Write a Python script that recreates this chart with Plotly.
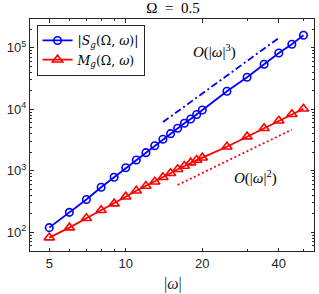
import plotly.graph_objects as go
import numpy as np

omega = [5, 6, 7, 8, 9, 10, 11, 12, 13, 14, 15, 16, 17, 18, 19, 20, 25, 30, 35, 40, 45, 50]
S_abs = [119, 211, 341, 538, 783, 1117, 1496, 1967, 2555, 3245, 4005, 4900, 5910, 6940,
         8220, 9730, 19600, 33000, 53700, 82000, 113600, 159000]
M_g = [82, 119, 169, 228, 292, 379, 474, 565, 664, 783, 909, 1057, 1196, 1353, 1497,
       1631, 2460, 3580, 4900, 6510, 8280, 10200]

ref3_omega = [14, 40]
ref3_coef = 2.25
ref2_omega = [16, 45]
ref2_coef = 2.3

x_ticks = [5, 10, 20, 40]
x_ticktext = ["5", "10", "20", "40"]
x_minor = [6, 7, 8, 9, 30, 50]
y_ticks = [1e2, 1e3, 1e4, 1e5]
y_ticktext = ["10<sup>2</sup>", "10<sup>3</sup>", "10<sup>4</sup>", "10<sup>5</sup>"]
y_minor = [50, 60, 70, 80, 90, 200, 300, 400, 500, 600, 700, 800, 900,
           2000, 3000, 4000, 5000, 6000, 7000, 8000, 9000,
           2e4, 3e4, 4e4, 5e4, 6e4, 7e4, 8e4, 9e4, 2e5]

AX = "#262626"
SERIF = "Liberation Serif"
SANS = "Liberation Sans"

fig = go.Figure()
fig.add_trace(go.Scatter(
    x=omega, y=S_abs, mode="lines+markers",
    name="|<i>S</i><sub><i>g</i></sub>(Ω, <i>ω</i>)|",
    line=dict(color="#0000FF", width=1.8),
    marker=dict(symbol="circle-open", size=7.5, color="#0000FF", line=dict(width=1.6)),
))
fig.add_trace(go.Scatter(
    x=omega, y=M_g, mode="lines+markers",
    name="<i>M</i><sub><i>g</i></sub>(Ω, <i>ω</i>)",
    line=dict(color="#FF0000", width=1.8),
    marker=dict(symbol="triangle-up-open", size=9, color="#FF0000", line=dict(width=1.6)),
))
fig.add_trace(go.Scatter(
    x=ref3_omega, y=[ref3_coef * w ** 3 for w in ref3_omega], mode="lines",
    line=dict(color="#0000FF", width=1.8, dash="7px,3px,2px,3px"), showlegend=False,
))
fig.add_trace(go.Scatter(
    x=ref2_omega, y=[ref2_coef * w ** 2 for w in ref2_omega], mode="lines",
    line=dict(color="#FF0000", width=1.8, dash="2px,2.5px"), showlegend=False,
))

axis_common = dict(
    type="log", showgrid=False, zeroline=False,
    showline=True, linecolor=AX, linewidth=1, mirror="ticks",
    ticks="inside", ticklen=3.5, tickwidth=1, tickcolor=AX,
    tickfont=dict(family=SANS, size=13, color=AX),
    automargin=False,
)
fig.update_xaxes(
    **axis_common,
    range=[np.log10(4.2), np.log10(55)],
    tickmode="array", tickvals=x_ticks, ticktext=x_ticktext,
    ticklabelstandoff=0,
    minor=dict(tickmode="array", tickvals=x_minor, ticks="inside", ticklen=2,
               tickcolor=AX, tickwidth=1, showgrid=False),
)
fig.update_yaxes(
    **axis_common,
    range=[1.696, 5.466],
    tickmode="array", tickvals=y_ticks, ticktext=y_ticktext,
    minor=dict(tickmode="array", tickvals=y_minor, ticks="inside", ticklen=2,
               tickcolor=AX, tickwidth=1, showgrid=False),
)

fig.add_annotation(x=0.5035, y=-0.142, xref="paper", yref="paper",
                   text="|<i>ω</i>|", showarrow=False, yanchor="middle",
                   font=dict(family=SERIF, size=16, color=AX))
fig.add_annotation(x=np.log10(22.4), y=np.log10(86700), xref="x", yref="y",
                   text="<i>O</i>(|<i>ω</i>|<sup>3</sup>)", showarrow=False,
                   font=dict(family=SERIF, size=15, color="#000000"))
fig.add_annotation(x=np.log10(32.5), y=np.log10(778), xref="x", yref="y",
                   text="<i>O</i>(|<i>ω</i>|<sup>2</sup>)", showarrow=False,
                   font=dict(family=SERIF, size=15, color="#000000"))

fig.update_layout(
    width=319, height=294,
    margin=dict(l=30, r=5, t=19, b=43),
    paper_bgcolor="white", plot_bgcolor="white",
    title=dict(text="Ω\u2002=\u20020.5", x=0.5423, xref="container", xanchor="center",
               y=0.973, yref="container", yanchor="middle",
               font=dict(family=SERIF, size=15, color="#000000")),
    legend=dict(x=0.023, y=0.975, xanchor="left", yanchor="top",
                bgcolor="white", bordercolor=AX, borderwidth=1,
                font=dict(family="DejaVu Serif", size=12.5, color="#000000"),
                tracegroupgap=0, itemwidth=30),
    showlegend=True,
)

fig.write_html("out.html", config={"displayModeBar": False},
               post_script="document.body.style.margin='0px';document.body.style.overflow='hidden';")
